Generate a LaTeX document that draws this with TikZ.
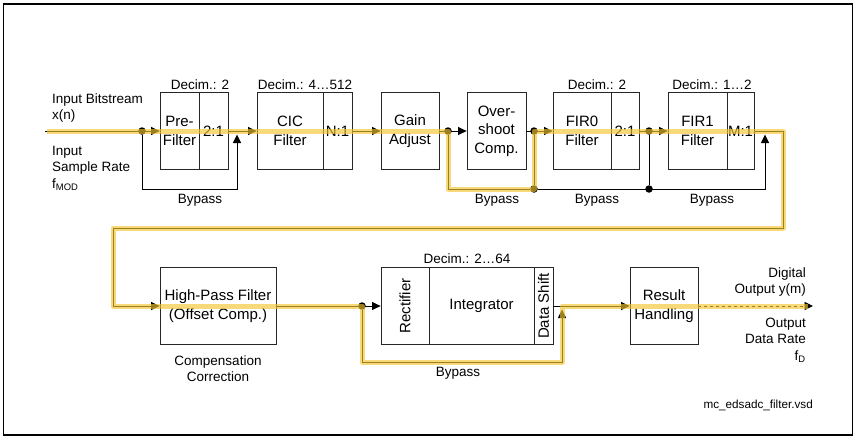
\documentclass[tikz,border=0pt]{standalone}
\usepackage{fontspec}
\setmainfont{Liberation Sans}
\usetikzlibrary{arrows.meta}
\definecolor{hlyellow}{RGB}{242,196,50}
\newcommand\bxfont{\fontsize{15}{18.5}\selectfont}
\newcommand\smfont{\fontsize{13.5}{16.5}\selectfont}
\begin{document}
\begin{tikzpicture}[x=1pt,y=-1pt,
    blk/.style={draw=black!85, line width=0.8pt, minimum height=77pt, inner sep=0pt, align=center, font=\bxfont},
    lbl/.style={inner sep=0pt, align=center, font=\smfont},
    dot/.style={circle, fill=black, inner sep=0pt, minimum size=7.5pt},
    con/.style={line width=0.9pt},
    arr/.style={con, -{Triangle[length=8.5pt,width=8pt]}},
    hl/.style={draw=hlyellow, line width=5pt, opacity=0.65, line join=round}]
  \useasboundingbox (0,0) rectangle (858,439);
  \draw[line width=1.3pt] (3.5,4) rectangle (852.5,435);
  % upper row
  \node[blk, minimum width=39pt] (pre) at (179.5,131) {Pre-\\Filter};
  \node[blk, minimum width=29pt] (preD) at (213.5,131) {2:1};
  \node[blk, minimum width=66pt] (cic) at (290,131) {CIC\\Filter};
  \node[blk, minimum width=29pt] (cicD) at (337.5,131) {N:1};
  \node[blk, minimum width=58pt] (gain) at (410,131) {Gain\\Adjust};
  \node[blk, minimum width=59pt] (ovs) at (496.5,131) {Over-\\shoot\\Comp.};
  \node[blk, minimum width=58pt] (fir0) at (582,131) {FIR0\\Filter};
  \node[blk, minimum width=28pt] (fir0D) at (625,131) {2:1};
  \node[blk, minimum width=59pt] (fir1) at (697.5,131) {FIR1\\Filter};
  \node[blk, minimum width=27pt] (fir1D) at (740.5,131) {M:1};
  \node[lbl, anchor=base] (dpre) at (200,89.5) {Decim.: 2};
  \node[lbl, anchor=base] (dcic) at (305,89.5) {Decim.: 4…512};
  \node[lbl, anchor=base] (dfir0) at (597,89.5) {Decim.: 2};
  \node[lbl, anchor=base] (dfir1) at (712,89.5) {Decim.: 1…2};
  % lower row
  \node[blk, minimum width=116pt] (hp) at (218,306) {High-Pass Filter\\(Offset Comp.)};
  \node[blk, minimum width=48pt] (rect) at (405,306) {\rotatebox{90}{Rectifier}};
  \node[blk, minimum width=105pt] (integ) at (481.5,306) {Integrator};
  \node[blk, minimum width=19pt] (dsh) at (543.5,306) {\rotatebox{90}{Data Shift}};
  \node[blk, minimum width=68pt] (res) at (664,306) {Result\\Handling};
  \node[lbl, anchor=base] (dint) at (467,263) {Decim.: 2…64};
  % texts
  \node[lbl, anchor=west, align=left] (inlbl) at (52,108) {Input Bitstream\\x(n)};
  \node[lbl, anchor=west, align=left] (inrate) at (52,168) {Input\\Sample Rate\\f\textsubscript{MOD}};
  \node[lbl, anchor=east, align=right] (outlbl) at (806,282) {Digital\\Output y(m)};
  \node[lbl, anchor=east, align=right] (outrate) at (806,340) {Output\\Data Rate\\f\textsubscript{D}};
  \node[lbl] (comp) at (218,368.5) {Compensation\\Correction};
  \node[lbl, anchor=base] (bp1) at (200,203.5) {Bypass};
  \node[lbl, anchor=base] (bp2) at (497,203.5) {Bypass};
  \node[lbl, anchor=base] (bp3) at (597,203.5) {Bypass};
  \node[lbl, anchor=base] (bp4) at (712,203.5) {Bypass};
  \node[lbl, anchor=base] (bp5) at (458,376.5) {Bypass};
  \node[inner sep=0pt, anchor=east, font=\fontsize{11.7}{14}\selectfont] (fname) at (813,405) {mc\_edsadc\_filter.vsd};
  % dots and corners
  \coordinate (in) at (45,131);
  \node[dot] (d1) at (142,131) {};
  \node[dot] (d2) at (448,131) {};
  \node[dot] (d3) at (534,131) {};
  \node[dot] (d4) at (649,131) {};
  \node[dot] (d5) at (534,189) {};
  \node[dot] (d6) at (649,189) {};
  \node[dot] (d7) at (362,306) {};
  \coordinate (b1) at (237,189); \coordinate (b1e) at (237,134.5);
  \coordinate (b2e) at (765,134.5);
  \coordinate (c1) at (783,228); \coordinate (c2) at (113,306);
  \coordinate (b3) at (562,362); \coordinate (b3e) at (562,309.5);
  \coordinate (out) at (813,306);
  % connectors
  \draw[arr] (in) -- (pre.west);
  \draw[arr] (d1) |- (b1) -- (b1e);
  \draw[arr] (preD.east) -- (cic.west);
  \draw[arr] (cicD.east) -- (gain.west);
  \draw[arr] (gain.east) -- (ovs.west);
  \draw[arr] (ovs.east) -- (fir0.west);
  \draw[arr] (fir0D.east) -- (fir1.west);
  \draw[con] (d2) |- (d5); \draw[con] (d3) -- (d5); \draw[con] (d4) -- (d6);
  \draw[arr] (d5) -| (b2e);
  \draw[arr] (fir1D.east) -| (c1) -| (c2) -- (hp.west);
  \draw[arr] (hp.east) -- (rect.west);
  \draw[arr] (d7) |- (b3) -- (b3e);
  \draw[arr] (dsh.east) -- (res.west);
  \draw[arr, dashed] (res.east) -- (out);
  % highlighted signal path
  \draw[hl] (47,131) -- (d2.center) |- (d5.center) -- (d3.center) -- (783,131) -- (c1) -- (113,228) -- (c2) -- (d7.center) |- (b3) -- (562,306) -- (808,306);
\end{tikzpicture}
\end{document}
